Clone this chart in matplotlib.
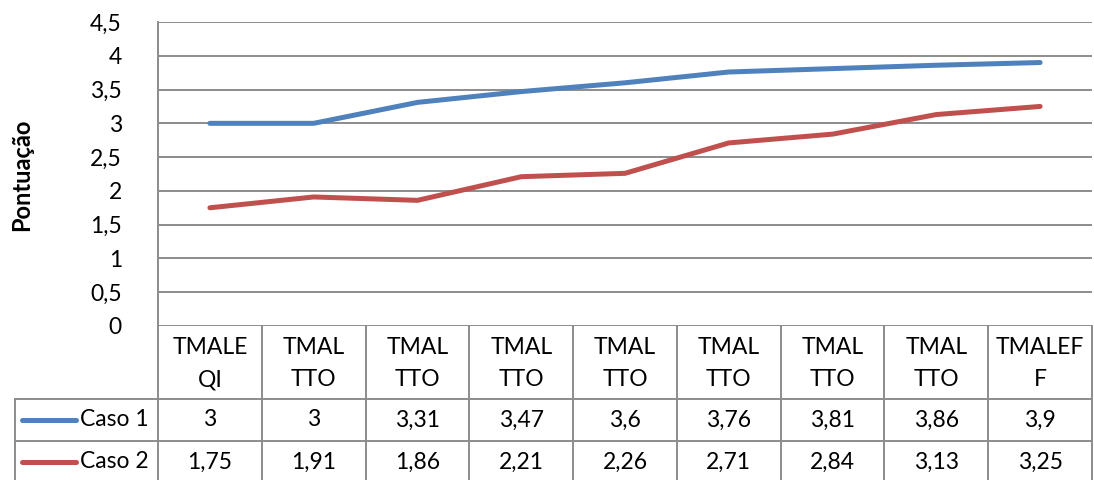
import matplotlib
matplotlib.use("Agg")
import matplotlib.pyplot as plt
from matplotlib.transforms import blended_transform_factory

# data
categories = ["TMALE\nQI", "TMAL\nTTO", "TMAL\nTTO", "TMAL\nTTO", "TMAL\nTTO",
              "TMAL\nTTO", "TMAL\nTTO", "TMAL\nTTO", "TMALEF\nF"]
caso1 = [3, 3, 3.31, 3.47, 3.6, 3.76, 3.81, 3.86, 3.9]
caso2 = [1.75, 1.91, 1.86, 2.21, 2.26, 2.71, 2.84, 3.13, 3.25]
series_names = ["Caso 1", "Caso 2"]
yticks = [0, 0.5, 1, 1.5, 2, 2.5, 3, 3.5, 4, 4.5]

W, H = 1094, 480
BLUE = "#4F81BD"
RED = "#C0504D"
GRID = "#8c8c8c"
FS = 16.5

plt.rcParams['font.family'] = ['Lato', 'DejaVu Sans']

fig = plt.figure(figsize=(W / 100, H / 100), dpi=100)
left, right, top, bottom = 158, 1092, 22, 326
ax = fig.add_axes([left / W, 1 - bottom / H, (right - left) / W, (bottom - top) / H])

x = list(range(len(categories)))
ax.plot(x, caso1, color=BLUE, lw=3.6, solid_capstyle="round", solid_joinstyle="round", zorder=3)
ax.plot(x, caso2, color=RED, lw=3.6, solid_capstyle="round", solid_joinstyle="round", zorder=3)

ax.set_xlim(-0.5, len(categories) - 0.5)
ax.set_ylim(0, 4.5)
ax.set_yticks(yticks)
ax.set_yticklabels([("%g" % v).replace(".", ",") for v in yticks], fontsize=FS)
ax.tick_params(axis="y", length=0, pad=26)
ax.set_xticks([])
ax.grid(axis="y", color=GRID, lw=1.4)
ax.set_axisbelow(True)
for s in ["top", "right", "bottom"]:
    ax.spines[s].set_visible(False)
ax.spines["left"].set_color(GRID)
ax.spines["left"].set_linewidth(1.4)

fig.text(22 / W, 1 - 175 / H, "Pontuação", rotation=90, fontsize=17,
         fontweight="bold", ha="center", va="center")

# data table underneath, x in data units, y in figure pixels
tr = blended_transform_factory(ax.transData, fig.transFigure)
def fy(p):
    return 1 - p / H

px_per_cat = (right - left) / len(categories)
x_leg = -0.5 - (left - 15) / px_per_cat
xe = len(categories) - 0.5
lk = dict(color=GRID, lw=1.4, transform=tr, clip_on=False)

# vertical separators
for i in range(len(categories) + 1):
    xb = i - 0.5
    fig.add_artist(plt.Line2D([xb, xb], [fy(326), fy(480)], **lk))
fig.add_artist(plt.Line2D([x_leg, x_leg], [fy(399), fy(480)], **lk))
# horizontal separators
for yy in [399, 441]:
    fig.add_artist(plt.Line2D([x_leg, xe], [fy(yy), fy(yy)], **lk))

for i, c in enumerate(categories):
    l1, l2 = c.split("\n")
    fig.text(i, fy(348), l1, transform=tr, ha="center", va="center", fontsize=FS)
    fig.text(i, fy(380), l2, transform=tr, ha="center", va="center", fontsize=FS)

rows = [(caso1, BLUE, 420), (caso2, RED, 462)]
for name, (vals, col, yy) in zip(series_names, rows):
    x0 = -0.5 - (left - 22) / px_per_cat
    x1 = -0.5 - (left - 76) / px_per_cat
    fig.add_artist(plt.Line2D([x0, x1], [fy(yy), fy(yy)], color=col, lw=3.6,
                              solid_capstyle="round", transform=tr))
    fig.text(-0.5 - (left - 80) / px_per_cat, fy(yy), name, transform=tr,
             ha="left", va="center", fontsize=FS)
    for i, v in enumerate(vals):
        fig.text(i, fy(yy), ("%g" % v).replace(".", ","), transform=tr,
                 ha="center", va="center", fontsize=FS)

fig.savefig("out.png", dpi=100)
